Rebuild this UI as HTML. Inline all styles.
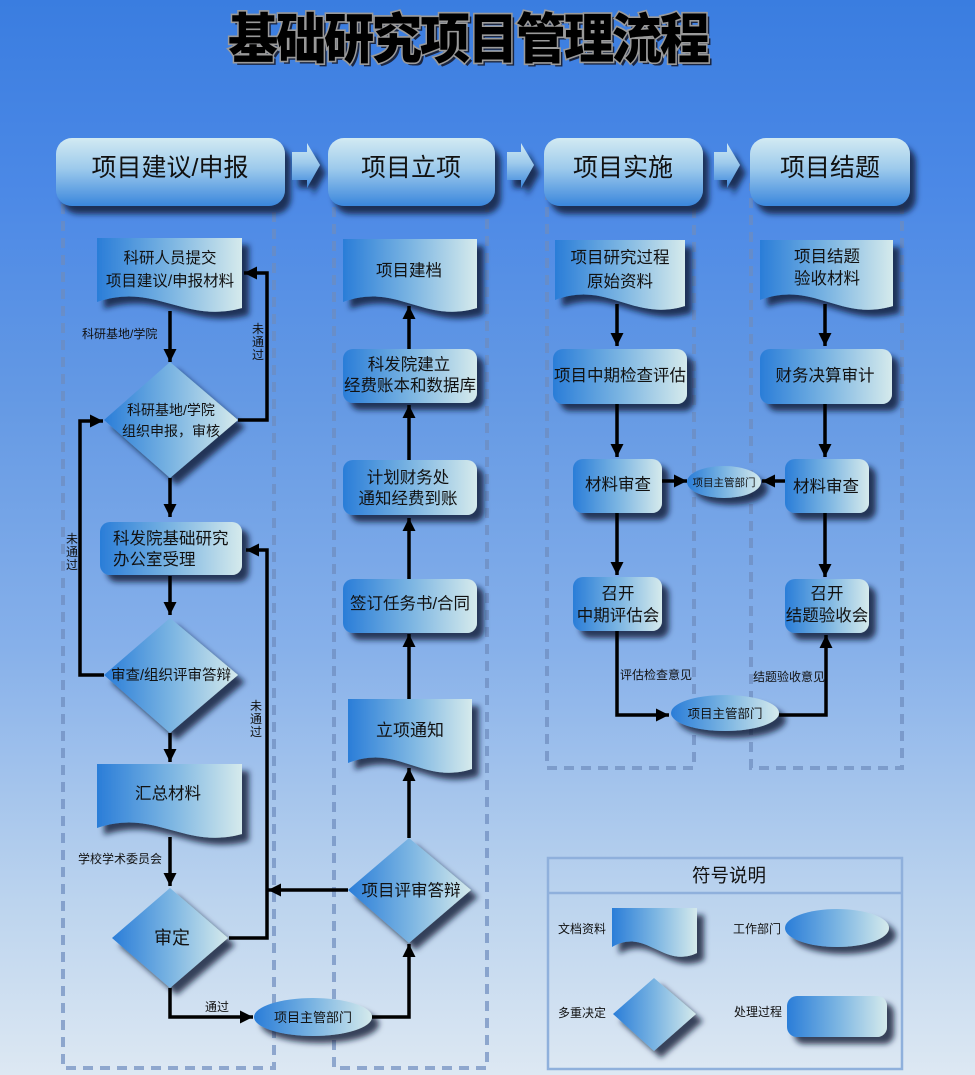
<!DOCTYPE html>
<html><head><meta charset="utf-8">
<style>
html,body{margin:0;padding:0;}
body{width:975px;height:1075px;overflow:hidden;background:linear-gradient(to bottom,#3a7de0 0%,#4c89e6 18%,#6499e4 37%,#86b0ea 60%,#bcd4ee 84%,#dde8f3 100%);}
svg{display:block;}
text{font-family:"Liberation Sans","Noto Sans CJK SC",sans-serif;fill:#111;}
</style></head>
<body>
<svg width="975" height="1075" viewBox="0 0 975 1075" xmlns="http://www.w3.org/2000/svg">
<defs>
<linearGradient id="g" x1="0" y1="0" x2="1" y2="0">
<stop offset="0" stop-color="#2a7dd8"/><stop offset="0.5" stop-color="#7ab4e2"/><stop offset="1" stop-color="#d5eaec"/>
</linearGradient>
<linearGradient id="gh" x1="0" y1="0" x2="0" y2="1">
<stop offset="0" stop-color="#d2eaf2"/><stop offset="0.45" stop-color="#9dcaec"/><stop offset="1" stop-color="#3a86dc"/>
</linearGradient>
<filter id="sh" x="-20%" y="-20%" width="150%" height="170%">
<feDropShadow dx="7" dy="7" stdDeviation="3" flood-color="#0b1836" flood-opacity="0.8"/>
</filter>
<filter id="shh" x="-20%" y="-20%" width="150%" height="170%">
<feDropShadow dx="6" dy="8" stdDeviation="3" flood-color="#0b1836" flood-opacity="0.8"/>
</filter>
<marker id="ar" markerWidth="14" markerHeight="14" refX="13" refY="7" orient="auto" markerUnits="userSpaceOnUse">
<path d="M0,0.5 L13,7 L0,13.5 z" fill="#000"/>
</marker>
</defs>

<!-- Title -->
<g transform="translate(468,58) scale(1,1.08)">
<text x="3" y="3" text-anchor="middle" font-size="50" font-weight="900" letter-spacing="-2" style="fill:#1a2540;font-family:'Noto Sans CJK SC',sans-serif;">基础研究项目管理流程</text>
<text x="0" y="0" text-anchor="middle" font-size="50" font-weight="900" letter-spacing="-2" stroke="#9a9a9a" stroke-width="3" paint-order="stroke" style="fill:#000;font-family:'Noto Sans CJK SC',sans-serif;">基础研究项目管理流程</text>
</g>

<!-- Lanes (dashed) -->
<g fill="none" stroke="rgba(110,140,190,0.7)" stroke-width="4" stroke-dasharray="10 7">
<rect x="63" y="185" width="211" height="883"/>
<rect x="334" y="185" width="153" height="883"/>
<rect x="547" y="185" width="147" height="583"/>
<rect x="751" y="185" width="151" height="583"/>
</g>

<!-- Header boxes -->
<g filter="url(#shh)" fill="url(#gh)">
<rect x="56" y="138" width="229" height="68" rx="16"/>
<rect x="328" y="138" width="167" height="68" rx="16"/>
<rect x="544" y="138" width="159" height="68" rx="16"/>
<rect x="750" y="138" width="160" height="68" rx="16"/>
<polygon points="292,152 307,152 307,143 320,165 307,188 307,180 292,180"/>
<polygon points="507,152 521,152 521,143 534,165 521,188 521,180 507,180"/>
<polygon points="714,152 727,152 727,143 740,165 727,188 727,180 714,180"/>
</g>
<g font-size="25" text-anchor="middle">
<text x="170" y="176">项目建议/申报</text>
<text x="411" y="176">项目立项</text>
<text x="623" y="176">项目实施</text>
<text x="830" y="176">项目结题</text>
</g>

<!-- Shapes -->
<g filter="url(#sh)" fill="url(#g)">
<!-- docs: M x,y H x+w V y+H-6 C x+.6w,y+H+10 x+.4w,y+H-32 x,y+H-12 Z -->
<path d="M97,238 H242 V308 C184,324 155,282 97,302 Z"/>
<path d="M343,239 H477 V308 C423,324 397,282 343,302 Z"/>
<path d="M97,764 H242 V834 C184,850 155,808 97,828 Z"/>
<path d="M348,699 H472 V769 C422,785 398,743 348,763 Z"/>
<path d="M555,240 H685 V306 C633,322 607,280 555,300 Z"/>
<path d="M760,240 H893 V306 C840,322 813,280 760,300 Z"/>
<path d="M612,908 H697 V953 C663,969 646,927 612,947 Z"/>
<!-- diamonds -->
<polygon points="170,362 238,420 170,478 104,420"/>
<polygon points="170,618 238,675 170,733 104,675"/>
<polygon points="170,888 228,938 170,988 112,938"/>
<polygon points="409,838 471,890 409,943 348,890"/>
<polygon points="654,978 696,1014 654,1051 613,1014"/>
<!-- processes -->
<rect x="100" y="522" width="142" height="53" rx="10"/>
<rect x="343" y="579" width="134" height="54" rx="10"/>
<rect x="343" y="460" width="134" height="55" rx="10"/>
<rect x="343" y="349" width="134" height="54" rx="10"/>
<rect x="553" y="349" width="134" height="55" rx="10"/>
<rect x="573" y="459" width="89" height="54" rx="10"/>
<rect x="573" y="577" width="89" height="54" rx="10"/>
<rect x="760" y="349" width="132" height="55" rx="10"/>
<rect x="785" y="459" width="84" height="54" rx="10"/>
<rect x="785" y="579" width="84" height="54" rx="10"/>
<rect x="787" y="996" width="100" height="41" rx="10"/>
<!-- ellipses -->
<ellipse cx="313" cy="1017" rx="59" ry="19"/>
<ellipse cx="724" cy="482" rx="37" ry="16"/>
<ellipse cx="725" cy="713" rx="54" ry="18"/>
<ellipse cx="837" cy="928" rx="52" ry="19"/>
</g>

<!-- Connectors -->
<g fill="none" stroke="#000" stroke-width="3.5" stroke-linejoin="miter">
<path d="M170,311 V362" marker-end="url(#ar)"/>
<path d="M238,420 H267 V273 H244" marker-end="url(#ar)"/>
<path d="M170,478 V517" marker-end="url(#ar)"/>
<path d="M170,576 V615" marker-end="url(#ar)"/>
<path d="M104,675 H80 V421 H103" marker-end="url(#ar)"/>
<path d="M170,733 V762" marker-end="url(#ar)"/>
<path d="M170,837 V886" marker-end="url(#ar)"/>
<path d="M229,938 H267 V550 H246" marker-end="url(#ar)"/>
<path d="M348,890 H268" marker-end="url(#ar)"/>
<path d="M170,988 V1017 H253" marker-end="url(#ar)"/>
<path d="M372,1017 H409 V944" marker-end="url(#ar)"/>
<path d="M409,838 V768" marker-end="url(#ar)"/>
<path d="M409,699 V634" marker-end="url(#ar)"/>
<path d="M409,579 V518" marker-end="url(#ar)"/>
<path d="M409,460 V405" marker-end="url(#ar)"/>
<path d="M409,349 V306" marker-end="url(#ar)"/>
<path d="M617,304 V346" marker-end="url(#ar)"/>
<path d="M617,404 V457" marker-end="url(#ar)"/>
<path d="M662,481 H687" marker-end="url(#ar)"/>
<path d="M785,481 H762" marker-end="url(#ar)"/>
<path d="M617,513 V575" marker-end="url(#ar)"/>
<path d="M617,631 V715 H669" marker-end="url(#ar)"/>
<path d="M779,715 H826 V635" marker-end="url(#ar)"/>
<path d="M825,304 V346" marker-end="url(#ar)"/>
<path d="M825,404 V457" marker-end="url(#ar)"/>
<path d="M825,513 V577" marker-end="url(#ar)"/>
</g>

<!-- Shape text -->
<g font-size="15.5" text-anchor="middle">
<text x="170" y="263">科研人员提交</text>
<text x="170" y="286">项目建议/申报材料</text>
<text x="409" y="276" font-size="16.5">项目建档</text>
<text x="409" y="370" font-size="16.5">科发院建立</text>
<text x="410" y="391" font-size="16.5">经费账本和数据库</text>
<text x="408" y="483" font-size="16.5">计划财务处</text>
<text x="408" y="504" font-size="16.5">通知经费到账</text>
<text x="410" y="609" font-size="16.5">签订任务书/合同</text>
<text x="410" y="736" font-size="17">立项通知</text>
<text x="411" y="896" font-size="16.5">项目评审答辩</text>
<text x="171" y="415" font-size="14">科研基地/学院</text>
<text x="171" y="436" font-size="14">组织申报，审核</text>
<text x="171" y="680" font-size="14.5">审查/组织评审答辩</text>
<text x="168" y="799" font-size="16.5">汇总材料</text>
<text x="172" y="944" font-size="18">审定</text>
<text x="313" y="1022" font-size="13">项目主管部门</text>
<text x="620" y="263" font-size="16.5">项目研究过程</text>
<text x="620" y="287" font-size="16.5">原始资料</text>
<text x="620" y="381" font-size="16.5">项目中期检查评估</text>
<text x="618" y="490" font-size="16.5">材料审查</text>
<text x="618" y="599" font-size="16.5">召开</text>
<text x="618" y="621" font-size="16.5">中期评估会</text>
<text x="724" y="486" font-size="10.5">项目主管部门</text>
<text x="725" y="718" font-size="12.5">项目主管部门</text>
<text x="827" y="262" font-size="16.5">项目结题</text>
<text x="827" y="284" font-size="16.5">验收材料</text>
<text x="825" y="381" font-size="16.5">财务决算审计</text>
<text x="826" y="492" font-size="16.5">材料审查</text>
<text x="827" y="599" font-size="16.5">召开</text>
<text x="827" y="621" font-size="16.5">结题验收会</text>
</g>
<text x="113" y="544" font-size="16.5">科发院基础研究</text>
<text x="113" y="565" font-size="16.5">办公室受理</text>

<!-- Connector labels -->
<g font-size="12">
<text x="82" y="338">科研基地/学院</text>
<text x="78" y="863">学校学术委员会</text>
<text x="205" y="1011">通过</text>
<text x="620" y="679">评估检查意见</text>
<text x="753" y="681">结题验收意见</text>
</g>
<g font-size="12" text-anchor="middle">
<text x="258" y="333">未</text><text x="258" y="346">通</text><text x="258" y="359">过</text>
<text x="72" y="543">未</text><text x="72" y="556">通</text><text x="72" y="569">过</text>
<text x="256" y="710">未</text><text x="256" y="723">通</text><text x="256" y="736">过</text>
</g>

<!-- Legend -->
<g fill="none" stroke="#8fb0dc" stroke-width="2.5">
<rect x="548" y="858" width="354" height="211"/>
<line x1="548" y1="893" x2="902" y2="893"/>
</g>
<text x="729" y="882" font-size="18.5" text-anchor="middle">符号说明</text>
<g font-size="12">
<text x="558" y="933">文档资料</text>
<text x="733" y="933">工作部门</text>
<text x="558" y="1017">多重决定</text>
<text x="734" y="1016">处理过程</text>
</g>
</svg>
</body></html>
